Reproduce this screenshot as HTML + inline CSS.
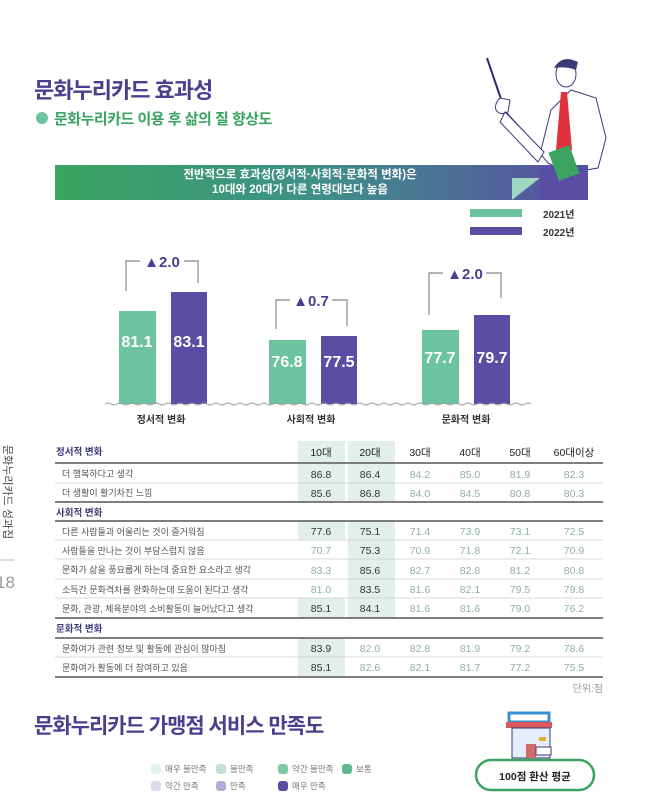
<!DOCTYPE html>
<html><head><meta charset="utf-8">
<style>
body{margin:0;width:658px;height:799px;background:#fff;position:relative;overflow:hidden;font-family:"Liberation Sans","Noto Sans CJK KR",sans-serif;}
.a{position:absolute;white-space:nowrap;}
</style></head><body>
<svg width="658" height="799" style="position:absolute;left:0;top:0" font-family="Liberation Sans, Noto Sans CJK KR, sans-serif">
<defs>
<linearGradient id="g" x1="0" x2="1"><stop offset="0" stop-color="#3aa460"/><stop offset="0.5" stop-color="#3e8f88"/><stop offset="1" stop-color="#5a4ea4"/></linearGradient>
</defs>
<rect x="55" y="165" width="530" height="35" fill="url(#g)"/>
<polygon points="512,178 540,178 512,200" fill="#9fd8c0"/>
<line x1="487" y1="58" x2="502" y2="102" stroke="#2f2b6e" stroke-width="2"/>
<path d="M500,98 q-6,6 -4,12 q4,6 12,2 l2,-12z" fill="#fff" stroke="#3d3a7a" stroke-width="1"/>
<path d="M506,112 l35,38 l10,-40 l20,-20 l25,8 l10,40 l-8,30 l-30,5 l-20,-10z" fill="#fff" stroke="#3d3a7a" stroke-width="1"/>
<path d="M505,112 l-5,10 l38,40 l6,-10z" fill="#fff" stroke="#3d3a7a" stroke-width="1"/>
<rect x="540" y="165" width="48" height="35" fill="#5a4ea4"/>
<ellipse cx="566" cy="74" rx="10" ry="13" fill="#fff" stroke="#3d3a7a"/>
<path d="M554,68 q8,-14 24,-6 l-2,8 q-10,-4 -22,-2z" fill="#3d3a7a"/>
<polygon points="561,92 567,92 572,150 560,160 556,150" fill="#e0323c"/>
<rect x="553" y="148" width="22" height="30" fill="#3aa460" transform="rotate(-20 564 163)"/>
<rect x="470" y="209" width="52" height="8" fill="#6cc3a0"/>
<rect x="470" y="227" width="52" height="8" fill="#5a4ea4"/>
<rect x="119" y="311" width="37" height="93" fill="#6cc3a0"/>
<rect x="171" y="292" width="36" height="112" fill="#5a4ea4"/>
<rect x="269" y="340" width="37" height="64" fill="#6cc3a0"/>
<rect x="321" y="336" width="36" height="68" fill="#5a4ea4"/>
<rect x="422" y="330" width="37" height="74" fill="#6cc3a0"/>
<rect x="474" y="315" width="36" height="89" fill="#5a4ea4"/>
<path d="M105,404 q3,-2 6,0 t6,0 t6,0 t6,0 t6,0 t6,0 t6,0 t6,0 t6,0 t6,0 t6,0 t6,0 t6,0 t6,0 t6,0 t6,0 t6,0 t6,0 t6,0 t6,0 t6,0 t6,0 t6,0 t6,0 t6,0 t6,0 t6,0 t6,0 t6,0 t6,0 t6,0 t6,0 t6,0 t6,0 t6,0 t6,0 t6,0 t6,0 t6,0 t6,0 t6,0 t6,0 t6,0 t6,0 t6,0 t6,0 t6,0 t6,0 t6,0 t6,0 t6,0 t6,0 t6,0 t6,0 t6,0 t6,0 t6,0 t6,0 t6,0 t6,0 t6,0 t6,0 t6,0 t6,0 t6,0 t6,0 t6,0 t6,0 t6,0 t6,0 t6,0" fill="none" stroke="#999" stroke-width="1"/>
<g fill="none" stroke="#888" stroke-width="1.2">
<path d="M126,291 V261 H140 M184,261 H198 V283"/>
<path d="M276,329 V300 H290 M332,300 H347 V326"/>
<path d="M429,315 V273 H443 M486,273 H501 V298"/>
</g>
<g font-weight="bold" font-size="15" fill="#4a3f8c" text-anchor="middle">
<text x="162" y="267">▲2.0</text><text x="311" y="306">▲0.7</text><text x="465" y="279">▲2.0</text>
</g>
<g font-weight="bold" font-size="16" fill="#fff" text-anchor="middle">
<text x="137" y="347">81.1</text><text x="189" y="347">83.1</text>
<text x="287" y="367">76.8</text><text x="339" y="367">77.5</text>
<text x="440" y="363">77.7</text><text x="492" y="363">79.7</text>
</g>
<g font-size="10" fill="#333" text-anchor="middle" font-weight="bold">
<text x="161" y="423">정서적 변화</text><text x="311" y="423">사회적 변화</text><text x="466" y="423">문화적 변화</text>
</g>
<g fill="#e3efe9">
<rect x="298" y="441" width="47" height="22"/><rect x="348" y="441" width="47" height="22"/>
<rect x="298" y="464" width="47" height="38"/><rect x="348" y="464" width="47" height="38"/>
<rect x="298" y="521" width="47" height="19"/><rect x="348" y="521" width="47" height="97"/>
<rect x="298" y="598" width="47" height="20"/>
<rect x="298" y="638" width="47" height="39"/>
</g>
<g stroke="#555" stroke-width="1.5">
<line x1="55" y1="463" x2="603" y2="463"/><line x1="55" y1="502" x2="603" y2="502"/>
<line x1="55" y1="521" x2="603" y2="521"/><line x1="55" y1="618" x2="603" y2="618"/>
<line x1="55" y1="638" x2="603" y2="638"/><line x1="55" y1="677" x2="603" y2="677"/>
</g>
<g stroke="#ccc" stroke-width="0.7">
<line x1="55" y1="483" x2="603" y2="483"/>
<line x1="55" y1="540" x2="603" y2="540"/><line x1="55" y1="559" x2="603" y2="559"/>
<line x1="55" y1="579" x2="603" y2="579"/><line x1="55" y1="598" x2="603" y2="598"/>
<line x1="55" y1="657" x2="603" y2="657"/>
</g>
<g font-size="9.5" fill="#3d3a7a" font-weight="bold">
<text x="56" y="455">정서적 변화</text><text x="56" y="516">사회적 변화</text><text x="56" y="632">문화적 변화</text>
</g>
<g font-size="9" fill="#555">
<text x="62" y="477">더 행복하다고 생각</text><text x="62" y="496">더 생활이 활기차진 느낌</text>
<text x="62" y="535">다른 사람들과 어울리는 것이 즐거워짐</text><text x="62" y="554">사람들을 만나는 것이 부담스럽지 않음</text>
<text x="62" y="573">문화가 삶을 풍요롭게 하는데 중요한 요소라고 생각</text><text x="62" y="593">소득간 문화격차를 완화하는데 도움이 된다고 생각</text>
<text x="62" y="612">문화, 관광, 체육분야의 소비활동이 늘어났다고 생각</text>
<text x="62" y="652">문화여가 관련 정보 및 활동에 관심이 많아짐</text><text x="62" y="671">문화여가 활동에 더 참여하고 있음</text>
</g>
<g font-size="10.5" fill="#222" text-anchor="middle">
<text x="321" y="456">10대</text><text x="370" y="456">20대</text><text x="420" y="456">30대</text><text x="470" y="456">40대</text><text x="520" y="456">50대</text><text x="574" y="456">60대이상</text>
</g>
<g font-size="10.5" text-anchor="middle" fill="#8fb0a4">
<text x="321" y="478" fill="#333">86.8</text><text x="370" y="478" fill="#333">86.4</text><text x="420" y="478">84.2</text><text x="470" y="478">85.0</text><text x="520" y="478">81.9</text><text x="574" y="478">82.3</text>
<text x="321" y="497" fill="#333">85.6</text><text x="370" y="497" fill="#333">86.8</text><text x="420" y="497">84.0</text><text x="470" y="497">84.5</text><text x="520" y="497">80.8</text><text x="574" y="497">80.3</text>
<text x="321" y="535" fill="#333">77.6</text><text x="370" y="535" fill="#333">75.1</text><text x="420" y="535">71.4</text><text x="470" y="535">73.9</text><text x="520" y="535">73.1</text><text x="574" y="535">72.5</text>
<text x="321" y="554">70.7</text><text x="370" y="554" fill="#333">75.3</text><text x="420" y="554">70.9</text><text x="470" y="554">71.8</text><text x="520" y="554">72.1</text><text x="574" y="554">70.9</text>
<text x="321" y="574">83.3</text><text x="370" y="574" fill="#333">85.6</text><text x="420" y="574">82.7</text><text x="470" y="574">82.8</text><text x="520" y="574">81.2</text><text x="574" y="574">80.8</text>
<text x="321" y="593">81.0</text><text x="370" y="593" fill="#333">83.5</text><text x="420" y="593">81.6</text><text x="470" y="593">82.1</text><text x="520" y="593">79.5</text><text x="574" y="593">79.8</text>
<text x="321" y="612" fill="#333">85.1</text><text x="370" y="612" fill="#333">84.1</text><text x="420" y="612">81.6</text><text x="470" y="612">81.6</text><text x="520" y="612">79.0</text><text x="574" y="612">76.2</text>
<text x="321" y="652" fill="#333">83.9</text><text x="370" y="652">82.0</text><text x="420" y="652">82.8</text><text x="470" y="652">81.9</text><text x="520" y="652">79.2</text><text x="574" y="652">78.6</text>
<text x="321" y="671" fill="#333">85.1</text><text x="370" y="671">82.6</text><text x="420" y="671">82.1</text><text x="470" y="671">81.7</text><text x="520" y="671">77.2</text><text x="574" y="671">75.5</text>
</g>
<text x="603" y="692" font-size="10" fill="#999" text-anchor="end">단위:점</text>
<line x1="0" y1="560" x2="14" y2="560" stroke="#bbb"/>
<text x="-4" y="588" font-size="17" fill="#999">18</text>
<g font-size="8.5" fill="#777">
<rect x="151" y="764" width="10" height="10" rx="3" fill="#e2f2ea"/><text x="165" y="772">매우 불만족</text>
<rect x="216" y="764" width="10" height="10" rx="3" fill="#bfe3d2"/><text x="230" y="772">불만족</text>
<rect x="278" y="764" width="10" height="10" rx="3" fill="#7fcaa5"/><text x="292" y="772">약간 불만족</text>
<rect x="342" y="764" width="10" height="10" rx="3" fill="#5fb890"/><text x="356" y="772">보통</text>
<rect x="151" y="781" width="10" height="10" rx="3" fill="#dcdaea"/><text x="165" y="789">약간 만족</text>
<rect x="216" y="781" width="10" height="10" rx="3" fill="#b3abd8"/><text x="230" y="789">만족</text>
<rect x="278" y="781" width="10" height="10" rx="3" fill="#5a4ea4"/><text x="292" y="789">매우 만족</text>
</g>
<rect x="509" y="713" width="40" height="9" fill="#fff" stroke="#3a8fd0" stroke-width="3"/>
<rect x="506" y="722" width="46" height="6" fill="#d9575f"/>
<rect x="512" y="728" width="38" height="30" fill="#e4eefc" stroke="#3d3a7a"/>
<rect x="526" y="744" width="10" height="14" fill="#d26a6a"/>
<rect x="536" y="747" width="15" height="8" fill="#fff" stroke="#3d3a7a"/>
<rect x="539" y="737" width="7" height="4" fill="#e8b030"/>
<rect x="476" y="760" width="118" height="30" rx="15" fill="#fff" stroke="#3aa460" stroke-width="2.5"/>
<text x="535" y="780" font-size="10.5" font-weight="bold" fill="#222" text-anchor="middle">100점 환산 평균</text>
</svg>
<div class="a" style="left:34px;top:73px;font-size:22px;font-weight:bold;color:#4a3f8c;letter-spacing:-1px">문화누리카드 효과성</div>
<div class="a" style="left:36px;top:112px;width:12px;height:12px;border-radius:50%;background:#6cc3a0"></div>
<div class="a" style="left:54px;top:108px;font-size:15px;font-weight:bold;color:#3aa460;letter-spacing:-0.5px">문화누리카드 이용 후 삶의 질 향상도</div>
<div class="a" style="left:165px;top:168px;width:270px;text-align:center;font-size:11.5px;font-weight:bold;color:#fff;line-height:15px">전반적으로 효과성(정서적·사회적·문화적 변화)은<br>10대와 20대가 다른 연령대보다 높음</div>
<div class="a" style="left:543px;top:206px;font-size:10px;font-weight:bold;color:#333">2021년</div>
<div class="a" style="left:543px;top:224px;font-size:10px;font-weight:bold;color:#333">2022년</div>
<div class="a" style="left:0px;top:445px;font-size:11px;color:#444;writing-mode:vertical-rl;text-orientation:sideways">문화누리카드 성과집</div>
<div class="a" style="left:34px;top:710px;font-size:21px;font-weight:bold;color:#4a3f8c;letter-spacing:-1px">문화누리카드 가맹점 서비스 만족도</div>
</body></html>
